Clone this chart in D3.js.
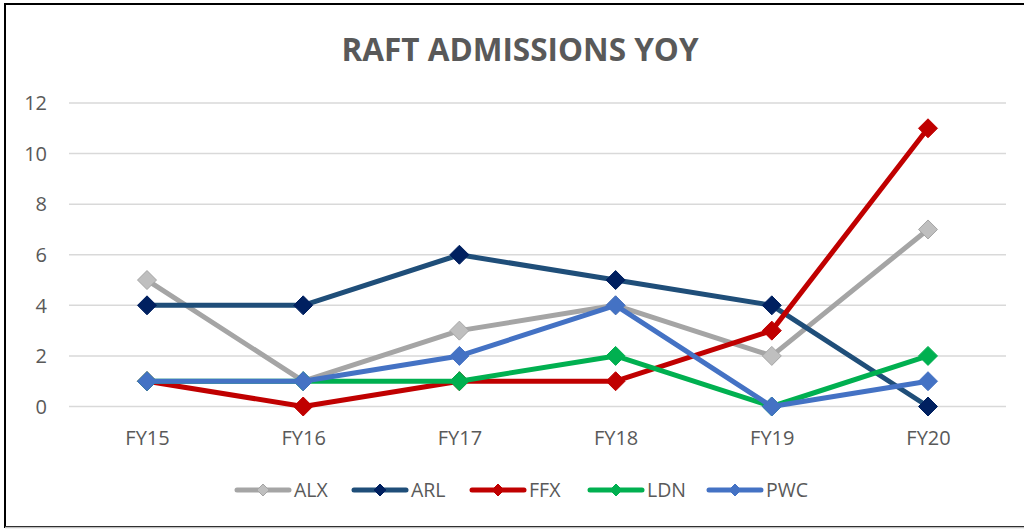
<!DOCTYPE html>
<html>
<head>
<meta charset="utf-8">
<title>RAFT Admissions YOY</title>
<script src="https://d3js.org/d3.v7.min.js"></script>
<style>
  body { margin: 0; background: #fff; }
  svg { display: block; font-family: "Open Sans", "Noto Sans", sans-serif; }
</style>
</head>
<body>
<div id="chart"></div>
<script>
const years = ["FY15", "FY16", "FY17", "FY18", "FY19", "FY20"];
const seriesNames = ["ALX", "ARL", "FFX", "LDN", "PWC"];
const alx = [5, 1, 3, 4, 2, 7];
const arl = [4, 4, 6, 5, 4, 0];
const ffx = [1, 0, 1, 1, 3, 11];
const ldn = [1, 1, 1, 2, 0, 2];
const pwc = [1, 1, 2, 4, 0, 1];
const yTicks = [0, 2, 4, 6, 8, 10, 12];

const lineColors = ["#A5A5A5", "#1F4E79", "#C00000", "#00B050", "#4472C4"];
const markColors = ["#BFBFBF", "#002060", "#C00000", "#00B050", "#4472C4"];
const markStroke = ["#A5A5A5", "#002060", "#C00000", "#00B050", "#4472C4"];

const series = seriesNames.map((n, i) => ({name: n, values: [alx, arl, ffx, ldn, pwc][i]}));

const W = 1024, H = 529;
const svg = d3.select('#chart').append('svg').attr('width', W).attr('height', H);

// chart border
svg.append('rect').attr('x', 5).attr('y', 4).attr('width', W + 10).attr('height', 523)
  .attr('fill', 'none').attr('stroke', '#000').attr('stroke-width', 2);
svg.append('line').attr('x1', 5).attr('x2', W).attr('y1', 527.5).attr('y2', 527.5)
  .attr('stroke', '#BFBFBF').attr('stroke-width', 1.5);

svg.append('text').attr('x', 520).attr('y', 61).attr('text-anchor', 'middle')
  .attr('fill', '#595959').style('font-size', '31.5px').style('font-weight', 'bold')
  .text('RAFT ADMISSIONS YOY');

const x = d3.scalePoint().domain(years).range([147, 928]);
const y = d3.scaleLinear().domain([0, 12]).range([406.5, 103]);

// gridlines
svg.append('g').selectAll('line').data(yTicks).enter().append('line')
  .attr('x1', 69).attr('x2', 1006)
  .attr('y1', d => y(d)).attr('y2', d => y(d))
  .attr('stroke', '#D9D9D9').attr('stroke-width', 1.5);

const yAxis = d3.axisLeft(y).tickValues(yTicks).tickSize(0).tickPadding(0);
const gy = svg.append('g').attr('transform', 'translate(47,0)').call(yAxis);
gy.select('.domain').remove();
gy.selectAll('text').attr('x', 0).attr('dy', '0.34em').attr('fill', '#595959')
  .style('font-size', '20px').style('font-family', '"Open Sans", sans-serif');

const xAxis = d3.axisBottom(x).tickSize(0).tickPadding(0);
const gx = svg.append('g').attr('transform', 'translate(0,445)').call(xAxis);
gx.select('.domain').remove();
gx.selectAll('text').attr('y', 0).attr('dy', 0).attr('fill', '#595959')
  .style('font-size', '20px').style('font-family', '"Open Sans", sans-serif');

const line = d3.line().x((d, i) => x(years[i])).y(d => y(d));

function diamondPath(s) {
  return 'M0,' + (-s) + 'L' + s + ',0L0,' + s + 'L' + (-s) + ',0Z';
}

series.forEach((s, k) => {
  const g = svg.append('g');
  g.append('path').datum(s.values).attr('d', line).attr('fill', 'none')
    .attr('stroke', lineColors[k]).attr('stroke-width', 5).attr('stroke-linejoin', 'round');
  g.selectAll('path.m').data(s.values).enter().append('path').attr('class', 'm')
    .attr('d', diamondPath(9.5))
    .attr('transform', (d, i) => 'translate(' + x(years[i]) + ',' + y(d) + ')')
    .attr('fill', markColors[k]).attr('stroke', markStroke[k]).attr('stroke-width', 1);
});

// legend
const legendX = [235, 352, 470, 588, 707];
const lg = svg.append('g').attr('transform', 'translate(0,490)');
series.forEach((s, k) => {
  const it = lg.append('g').attr('transform', 'translate(' + legendX[k] + ',0)');
  it.append('line').attr('x1', 2).attr('x2', 54).attr('y1', 0).attr('y2', 0)
    .attr('stroke', lineColors[k]).attr('stroke-width', 5).attr('stroke-linecap', 'round');
  it.append('path').attr('d', diamondPath(6)).attr('transform', 'translate(28,0)')
    .attr('fill', markColors[k]).attr('stroke', markStroke[k]).attr('stroke-width', 1);
  it.append('text').attr('x', 59).attr('y', 7).attr('fill', '#595959')
    .style('font-size', '19.5px').text(s.name);
});
</script>
</body>
</html>
